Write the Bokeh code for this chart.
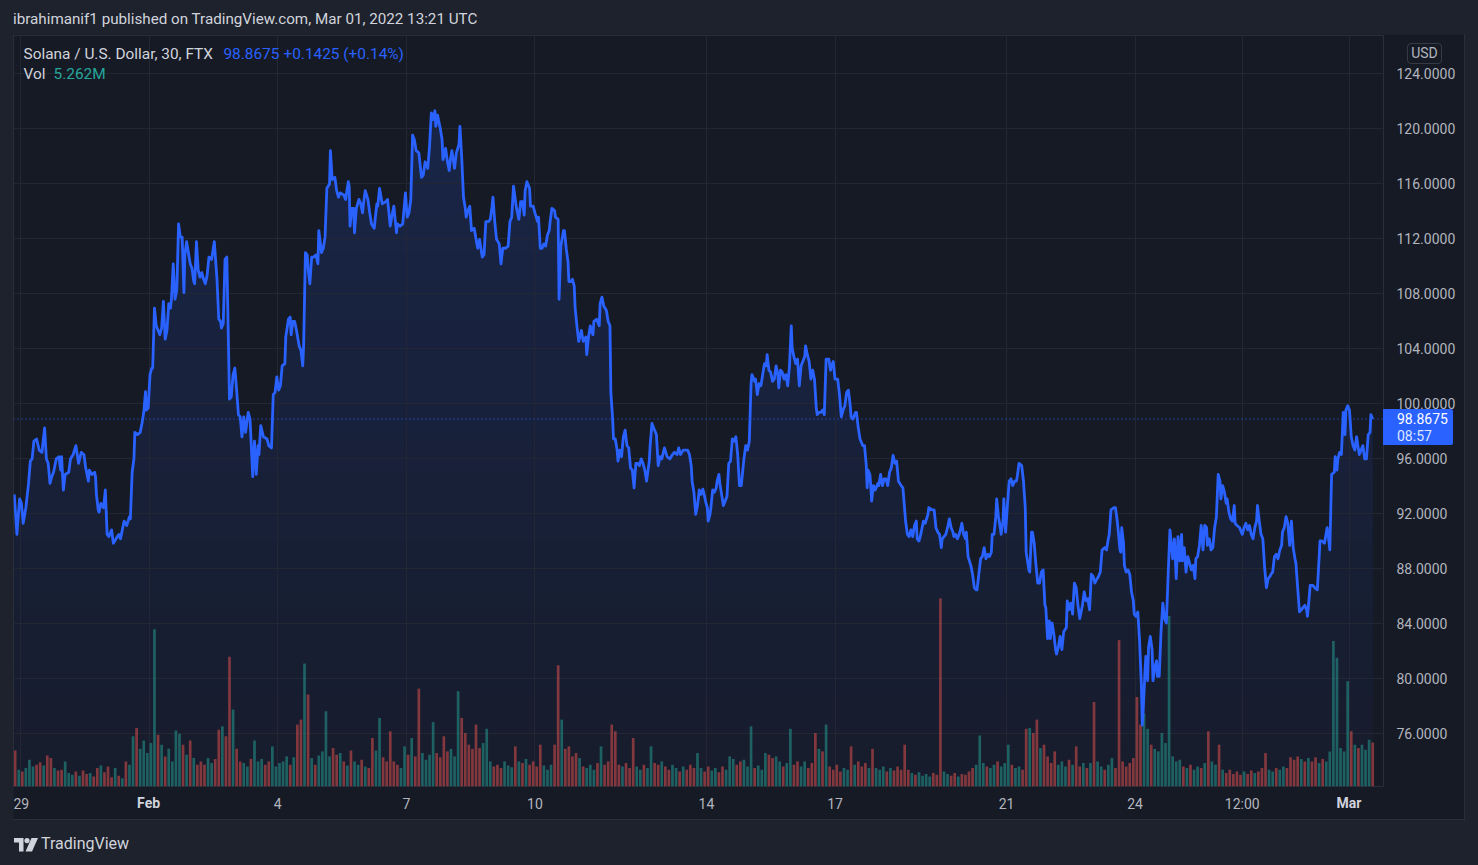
import numpy as np
from bokeh.plotting import figure
from bokeh.models import Range1d, FixedTicker, PrintfTickFormatter, Label, Span, Div
from bokeh.layouts import column
from bokeh.embed import file_html
from bokeh.resources import INLINE

# ---------------- data ----------------
# SOL/USD 30-min closes: (hours since 2022-01-29 00:00 UTC, price)
price_part1 = [(-3.5,93.39),(-2,90.48),(-0.5,93.07),(0.5,92.74),(1.5,91.29),(3,92.42),(4.5,94.19),(5.5,95.81),(6.5,95.97),(7.5,97.26),(9,97.42),(10.5,96.61),(12,96.45),(13.5,98.23),(14.5,95.97),(15.5,95.65),(16.5,94.19),(17.5,94.68),(18.5,95.0),(20,95.97),(21.5,96.13),(22.5,95.16),(23,96.13),(24,93.71),(25,94.84),(27,95.0),(28,95.97),(29.5,96.29),(31,96.94),(32.5,95.65),(34,96.45),(35.5,96.29),(36.5,95.32),(38,94.35),(38.5,95.16),(40,94.84),(41.5,95.0),(42,94.68),(42.5,93.39),(43.5,92.26),(44,92.1),(45,92.74),(46.5,92.42),(47.5,93.71),(48.5,90.48),(49.5,90.32),(51,90.81),(52,89.84),(53.5,90.16),(55,90.48),(56,90.16),(57,90.81),(58,91.45),(59.5,91.13),(61,91.77),(61.5,91.61),(62.5,95.0),(63.5,95.97),(64,97.9),(65.5,97.74),(67,97.9),(68,98.55),(69,99.36),(70,100.87),(70.5,99.52),(71.5,99.68),(72.5,102.1),(73.5,102.58),(74,102.58),(75,106.94),(76,105.65),(77.5,105.16),(78,105.0),(79,105.49),(80,107.42),(81,104.68),(82,105.32),(83,107.26),(84,106.94),(84.5,107.58),(85.5,110.16),(86.5,107.58),(87.5,108.23),(88.5,113.06),(89.5,112.1),(90.5,112.1),(91.5,108.06),(92,110.81),(93,111.77),(94,110.97),(95,110.16),(96,109.84),(97,108.87),(97.5,108.71),(98.5,111.77),(99.5,109.68),(100.5,109.19),(101.5,109.52),(102.5,109.03),(103.5,108.71),(104.5,109.35),(105.5,110.65),(107,110.48),(108.5,111.77),(110,109.03),(111,106.13),(112,105.97),(112.5,105.49),(113.5,105.81),(114.5,110.48),(115.5,110.65),(117,100.32),(118,100.48),(119,102.1),(120,102.58),(121,100.97),(122,99.19),(123,99.03),(124,97.58),(125,99.03),(126,97.9),(127.5,99.36),(128.5,98.87),(130,94.68),(131,97.26),(132,94.84),(133,96.94),(133.5,96.29),(134.5,98.39),(136,97.58),(138,97.42),(139,96.94),(140.5,96.77),(141.5,100.65),(142.5,100.81),(143.5,101.94),(144.5,100.97),(145.5,101.29),(146.5,102.74),(148,102.9),(148.5,104.84),(150,106.13),(151,106.29),(151.5,105.0),(152.5,105.97),(153.5,105.97),(154.5,105.32),(156,104.19),(157,103.87),(158,102.74),(158.5,104.19),(159.5,110.97),(160.5,110.81),(161,109.84),(162,108.71),(163,110.65),(164,110.65),(165.5,110.81),(166.5,110.16),(167,112.58),(168.5,110.97),(169.5,111.29),(170.5,112.1),(171.5,115.65),(173,115.97),(173.5,118.39),(174.5,116.29),(176,116.45),(177,115.48),(178,115.0),(179,115.32),(181,115.16),(182,114.84),(183.5,116.13),(184,115.81),(184.5,112.9),(185.5,114.19)]
price_part2 = [(186.5,114.19),(187,112.42),(188,114.19),(189.5,114.84),(190.5,114.52),(191.5,113.87),(192,114.52),(193,115.48),(194.5,114.84),(195.5,113.87),(196.5,113.06),(198,112.74),(199.5,114.52),(200,114.35),(201,115.65),(202.5,114.52),(204.5,114.68),(205.5,114.84),(207,112.9),(208,113.71),(209,114.35),(210.5,112.42),(211,113.06),(212.5,112.9),(214,113.06),(215.5,115.32),(216.5,113.55),(217.5,113.87),(218.5,114.84),(219.5,119.52),(220.5,119.19),(221.5,118.39),(223,118.23),(224.5,116.45),(225.5,116.61),(226.5,117.58),(228,117.1),(229,118.71),(230,121.13),(231,120.65),(232,121.29),(232.5,120.16),(233.5,120.97),(235,120.0),(236,119.19),(236.5,117.74),(238,118.55),(239,117.58),(240,116.94),(240.5,117.58),(241.5,118.39),(243,117.1),(244,118.23),(245.5,118.87),(246,120.16),(247,117.9),(248,115.0),(249,114.19),(249.5,113.55),(250.5,114.03),(251.5,114.35),(252.5,112.58),(254,112.74),(255.5,111.61),(256,111.29),(257,111.94),(258.5,110.65),(259.5,110.81),(260.5,113.23),(262,113.23),(263,113.39),(264,114.35),(264.5,115.0),(265.5,113.23),(266.5,111.94),(268,111.61),(269,110.16),(270,111.29),(271.5,111.29),(273,111.45),(274,113.23),(275,113.55),(276,115.81),(277.5,114.35),(279,113.39),(280,114.68),(281,114.68),(282,113.71),(282.5,115.48),(283.5,116.13),(285,115.65),(285.5,114.35),(287,114.35),(288,113.87),(289.5,113.23),(290,113.55),(291,111.29),(292,111.29),(293,111.61),(294,111.45),(295,112.26),(296,112.58),(296.5,113.23),(297.5,114.19),(299,114.03),(299.5,113.55),(301,113.39),(301.5,107.58),(302.5,111.45),(304,112.58),(304.5,112.58),(305.5,111.29),(306.5,110.32),(307,108.87),(308,108.87),(309,109.03),(310,108.55),(310.5,106.94),(311.5,105.65),(312.5,104.52),(314,105.32),(315,104.52),(316.5,104.84),(317,103.55),(318,104.84),(319,105.65),(320.5,105.0),(321,105.97),(322.5,106.13),(324,105.65),(324.5,107.26),(325.5,107.74),(326.5,107.1),(328,106.77),(329,105.97),(330,105.65),(330.5,100.81),(331.5,98.87),(332,97.42),(333,97.42),(334,96.61),(334.5,95.81),(335.5,96.61),(336.5,96.13),(337.5,97.58),(338.5,98.06),(339.5,96.94),(340.5,96.77),(341.5,95.32),(342.5,95.16),(343.5,93.87),(344.5,95.65),(345.5,95.65),(346.5,95.48),(347.5,95.97),(348.5,95.65),(349.5,95.16),(350.5,94.35),(352,95.81),(352.5,96.94),(353.5,98.55),(355,98.06),(356,97.74),(357,95.48),(358,96.13),(359,95.97),(360.5,96.77),(362,96.13),(363.5,95.97),(365,96.29),(366,96.45),(367.5,96.29),(368.5,96.77),(369.5,96.29),(371,96.61),(372.5,96.61),(373.5,96.61),(374.5,96.29),(375.5,95.48),(376,94.35),(377,93.55),(378,91.94)]
price_part3 = [(379,92.58),(380,93.71),(381,93.39),(382,93.77),(383,93.23),(383.5,92.9),(384.5,92.42),(385,91.45),(386,91.94),(386.5,92.42),(387.5,93.71),(388.5,93.55),(389.5,93.87),(390,94.35),(391,94.84),(391.5,94.19),(392.5,93.39),(393.5,92.58),(394.5,92.9),(395.5,93.23),(396.5,95.65),(397.5,95.81),(398.5,97.42),(399.5,97.26),(400.5,97.58),(401.5,96.29),(402.5,94.03),(403.5,94.03),(404,94.68),(405,95.97),(406,96.94),(407,96.61),(408,97.26),(409,101.45),(409.5,102.1),(411,101.61),(411.5,101.77),(412.5,100.65),(413.5,101.45),(414.5,101.29),(415.5,102.1),(416.5,102.9),(417.5,102.74),(418,103.55),(419,102.42),(420,102.26),(421,101.61),(422,101.77),(423,102.74),(424,102.1),(424.5,101.13),(425.5,102.42),(426.5,102.26),(427.5,101.77),(428.5,102.1),(429.5,101.29),(430.5,102.74),(431.5,105.65),(432,104.03),(433,103.39),(434,102.9),(435,103.23),(436,101.29),(437,102.74),(439,103.39),(439.5,104.19),(440.5,103.55),(441.5,103.06),(442.5,101.77),(443.5,102.42),(444.5,101.77),(445.5,99.68),(446,99.19),(447,99.36),(448,99.36),(449,99.52),(450,99.19),(451,103.23),(452.5,103.23),(453.5,102.42),(454,102.74),(455,103.06),(456,101.77),(457.5,101.77),(458.5,100.65),(459.5,99.03),(460.5,99.52),(461.5,99.84),(462.5,100.81),(463.5,100.97),(464.5,99.84),(465,99.03),(466,98.87),(467.5,99.36),(468,99.36),(469,98.23),(470,97.42),(471.5,96.94),(472.5,96.94),(473.5,95.48),(474,93.87),(474.5,95.16),(475.5,94.84),(476,94.03),(476.5,92.9),(477.5,94.03),(478.5,93.71),(480,94.19),(480.5,94.03),(481.5,94.84),(482.5,94.03),(483.5,94.52),(484.5,94.52),(485.5,94.03),(486.5,95.0),(487.5,95.32),(488.5,96.23),(489.5,95.65),(490.5,95.81),(491.5,94.35),(493,94.03),(494,93.87),(495.5,91.45),(496.5,90.48),(497.5,90.32),(498.5,90.81),(499.5,90.32),(500.5,91.13),(501.5,91.45),(502,90.16),(503,90.0),(504,90.48),(505.5,91.45),(506.5,91.29),(508,91.94),(508.5,92.42),(510.5,92.26),(511.5,92.26),(512.5,90.97),(513.5,90.65),(514.5,90.48),(515.5,89.52),(516,90.16),(517,90.32),(518,90.48),(519,90.97),(520,91.61),(521,90.97),(522,90.65),(522.5,90.32),(523.5,90.48),(524.5,90.16),(525.5,90.48),(526.5,90.97),(527,91.29),(528,90.48),(529,90.16),(529.5,90.65),(530.5,88.87),(532,88.23),(533,87.58),(534,86.61),(535,86.45),(535.5,86.45),(536.5,87.58),(537.5,88.71),(538.5,88.87),(539.5,89.52),(540.5,88.71),(541.5,89.03),(542.5,88.87),(543.5,89.19),(544,90.48),(545,90.48),(546,91.77),(546.5,93.06),(547.5,91.77),(548.5,90.97),(549,90.48),(550,91.45),(550.5,93.06),(551.5,90.65),(552.5,92.58),(553.5,94.35),(554.5,94.52),(555.5,94.03),(556.5,94.35),(557.5,94.35),(558,94.68),(559,95.65),(560.5,95.48),(561.5,94.35),(562.5,92.42),(563,89.19),(564.5,87.9),(565,87.74),(566,90.65),(566.5,90.65),(567.5,89.84),(568.5,88.23),(569.5,86.94)]
price_part4 = [(570.5,86.94),(571.5,87.74),(572.5,87.9),(573.5,85.32),(574,85.16),(575,82.9),(576,84.19),(576.5,82.9),(577.5,84.03),(578.5,83.23),(579.5,82.1),(580,81.77),(581,82.26),(582,83.06),(583,82.1),(584,83.39),(585.5,83.71),(586,85.65),(587,85.0),(588,85.48),(589,84.68),(590,86.94),(591,86.61),(592,85.32),(593,84.35),(594,85.0),(594.5,85.32),(595.5,86.29),(596.5,85.65),(597.5,85.81),(598.5,85.0),(599.5,87.58),(600.5,87.42),(601.5,86.94),(602,87.1),(603.5,87.42),(604.5,87.74),(605.5,89.35),(607,89.52),(608,89.35),(609,90.16),(609.5,90.48),(610.5,92.26),(612,92.42),(613,92.42),(614,91.45),(614.5,90.81),(615.5,89.35),(616,89.19),(616.5,90.97),(617.5,89.84),(618,88.23),(619,87.74),(620,87.9),(621,87.58),(622,86.29),(623,85.65),(623.5,84.68),(624.5,84.52),(625.5,84.84),(626.5,82.74),(627.5,79.52),(628,76.61),(628.5,77.58),(629.5,80.48),(630,81.61),(631,79.84),(631.5,82.26),(632.5,83.06),(633.5,82.1),(634,79.84),(635,80.81),(636,81.29),(636.5,80.16),(637.5,80.16),(638.5,83.39),(639.5,85.48),(640.5,84.35),(641.5,84.03),(642.5,87.58),(643.5,90.81),(644,90.16),(645,88.71),(646,90.16),(647,87.26),(648,90.32),(649,88.55),(650,90.48),(650.5,88.55),(651.5,89.52),(652.5,87.74),(653.5,88.87),(654.5,88.39),(655.5,87.9),(656.5,88.23),(657.5,87.26),(658,88.71),(659,88.87),(660,89.68),(661,91.13),(662,89.35),(663,91.13),(664,90.97),(664.5,89.68),(665.5,90.16),(666.5,89.35),(667.5,89.52),(668.5,90.97),(669.5,91.77),(670.5,94.84),(671.5,94.35),(672,93.06),(673,94.03),(674,93.55),(675,92.74),(675.5,93.06),(676.5,92.1),(677.5,91.61),(678.5,91.45),(679.5,92.58),(680,91.29),(681,91.13),(682.5,90.97),(684,90.48),(685,90.97),(686,91.29),(687,90.81),(688,91.13),(689,90.48),(690,90.16),(691,90.97),(692,91.45),(692.5,92.58),(693.5,91.45),(694.5,90.48),(695.5,90.16),(696.5,88.06),(697.5,86.61),(698.5,87.26),(699.5,87.42),(700,87.58),(701,87.74),(702,88.87),(703,89.03),(704,88.71),(705,89.35),(706,89.68),(706.5,90.65),(707.5,90.97),(708.5,91.77),(709.5,91.29),(710.5,89.68),(711.5,91.45),(712.5,89.52),(713.5,88.71),(714,88.39),(715,86.61),(716,84.84),(717,85.0),(718,85.16),(719,85.32),(720,85.0),(720.5,84.52),(721.5,85.97),(722,86.77),(723.5,86.77),(724.5,86.61),(726,86.45),(726.5,87.58),(727.5,90.0),(728.5,90.0),(730,89.84),(731.5,90.97),(732.5,90.0),(733,89.35),(734,94.84),(735.5,95.0),(736,96.13),(737,95.16),(737.5,95.97),(738.5,96.45),(739.5,96.29),(740.5,99.36),(741.5,97.74),(742,99.52),(743,99.84),(744,99.52),(745,97.58),(746,96.94),(747,96.61),(748,97.58),(748.5,97.1),(749.5,96.29),(750.5,96.61),(751.5,96.94),(752.5,95.97),(753.5,95.97),(754.5,97.74),(755.5,97.9),(756,99.19),(757,98.8675)]

last_close = 98.8675
last_change = "+0.1425 (+0.14%)"
last_volume = "5.262M"
bar_countdown = "08:57"

# volume (millions) in 2-hour steps, each part starting at the given hour
vol_step = 2
vol_start1 = -3
vol_part1 = [4.3, 2.0, 1.8, 2.2, 3.2, 2.4, 2.6, 2.9, 2.5, 3.7, 3.4, 2.2, 1.9, 2.0, 3.0, 1.6, 1.4, 1.8, 1.3, 1.9,
             1.5, 1.6, 1.2, 2.2, 2.5, 1.7, 2.4, 1.1, 2.2, 1.3, 1.0, 3.0, 2.6, 6.0, 7.0, 4.5, 5.5, 4.0, 5.2, 18.8,
             6.2, 5.0, 3.6, 4.5, 3.0, 6.7, 6.3, 5.0, 3.8, 5.5, 3.4, 2.6, 3.0, 2.6, 3.4, 2.8, 3.3, 6.8, 7.2, 6.0,
             15.5, 9.2, 4.5, 3.0, 2.8, 2.4, 3.3, 5.5, 3.0, 3.3, 2.6, 3.0, 4.8, 2.4, 2.8, 3.0, 3.6, 2.6, 3.5, 7.4,
             8.0, 14.7, 11.0, 3.4, 2.6, 3.7, 4.2, 9.0, 3.6, 4.6, 3.8, 4.0, 3.0, 2.5, 4.3]
vol_start2 = 187
vol_part2 = [3.0, 2.6, 3.2, 2.4, 2.2, 5.8, 4.3, 8.2, 3.5, 3.0, 6.6, 3.0, 2.6, 2.2, 4.8, 3.8, 5.8, 3.6, 11.7, 4.0,
             3.2, 3.8, 7.7, 4.0, 3.5, 6.0, 4.2, 4.5, 3.6, 11.4, 8.2, 6.4, 5.0, 4.5, 7.4, 4.6, 5.2, 6.9, 3.0, 2.4,
             2.6, 2.2, 3.0, 2.5, 2.3, 4.8, 3.0, 2.8, 3.3, 2.6, 3.0, 2.4, 5.0, 2.5, 2.0, 2.6, 5.0, 14.5, 8.0, 4.5,
             4.8, 3.6, 4.0, 3.4, 2.4, 2.2, 2.6, 2.0, 2.8, 4.8, 2.6, 3.0, 7.4, 6.6, 2.6, 2.4, 2.8, 2.2, 5.8, 2.4,
             2.0, 2.6, 2.2, 4.8, 2.8, 2.6, 3.0, 2.4, 2.0, 2.6, 2.2, 1.8, 2.4, 2.0, 2.6, 2.2]
vol_start3 = 379
vol_part3 = [4.0, 2.2, 1.8, 2.4, 1.9, 2.2, 1.7, 2.4, 2.0, 3.6, 3.3, 2.6, 3.0, 3.2, 2.4, 7.2, 2.2, 2.5, 2.0, 4.0,
             3.8, 3.4, 3.6, 3.0, 2.4, 2.8, 6.9, 2.6, 3.0, 2.4, 3.0, 2.2, 2.8, 6.4, 4.5, 4.2, 7.4, 2.4, 2.0, 2.6,
             1.8, 2.2, 2.0, 4.8, 2.6, 3.0, 2.4, 2.8, 2.2, 4.5, 2.2, 2.0, 2.4, 1.8, 2.2, 1.9, 2.4, 2.0, 5.0, 2.0,
             1.6, 1.4, 1.7, 1.3, 1.5, 1.2, 1.6, 1.4, 22.5, 1.8, 1.5, 1.3, 1.6, 1.2, 1.5, 1.4, 1.8, 2.2, 2.6, 6.1,
             2.8, 2.4, 2.2, 2.6, 3.0, 2.4, 2.8, 5.0, 2.6, 2.2, 2.4, 2.0, 6.9, 7.0, 6.4, 8.0]
vol_start4 = 571
vol_part4 = [4.6, 5.0, 3.6, 2.8, 4.2, 2.6, 3.0, 2.4, 3.2, 2.6, 4.8, 2.4, 2.8, 2.2, 2.8, 10.1, 3.0, 2.4, 2.0, 2.6,
             3.4, 2.2, 17.5, 3.0, 2.4, 2.8, 3.4, 10.7, 7.4, 8.7, 6.9, 5.0, 4.5, 4.2, 6.4, 5.2, 20.4, 3.6, 3.0, 3.2,
             2.4, 2.2, 2.6, 2.0, 2.4, 2.2, 2.8, 6.6, 3.0, 2.6, 5.0, 2.0, 1.6, 2.0, 1.5, 1.8, 1.4, 1.8, 1.5, 1.9,
             1.6, 1.8, 2.2, 4.0, 2.0, 1.8, 2.2, 2.0, 2.4, 2.2, 3.5, 3.2, 3.6, 3.3, 3.0, 3.4, 3.0, 3.5, 2.8, 3.3,
             3.0, 4.2, 17.4, 15.4, 4.6, 4.2, 12.6, 6.6, 5.0, 4.6, 5.0, 4.4, 5.6, 5.262]

price_ticks = [76, 80, 84, 88, 92, 96, 100, 104, 108, 112, 116, 120, 124]
date_ticks = [0, 72, 144, 216, 288, 384, 456, 552, 624, 684, 744]
date_labels = ["29", "Feb", "4", "7", "10", "14", "17", "21", "24", "12:00", "Mar"]
bold_dates = ["Feb", "Mar"]

# ---------------- styling ----------------
BG = "#161a25"
BG_RGB = np.array([22, 26, 37], dtype=float)
BLUE = "#2962ff"
BLUE_RGB = np.array([41, 98, 255], dtype=float)
GRID = "#232734"
BORDER = "#2a2e39"
TXT = "#b2b5be"
LIGHT = "#d1d4dc"
UPC = "#26a69a"
DNC = "#ef5350"
FONT = "Roboto"

pts = price_part1 + price_part2 + price_part3 + price_part4
ph = np.array([a for a, b in pts], dtype=float)
pp = np.array([b for a, b in pts], dtype=float)

vt = np.concatenate([s + vol_step * np.arange(len(v)) for s, v in
                     ((vol_start1, vol_part1), (vol_start2, vol_part2), (vol_start3, vol_part3), (vol_start4, vol_part4))]).astype(float)
vv = np.array(vol_part1 + vol_part2 + vol_part3 + vol_part4, dtype=float)
up = np.interp(vt + 1, ph, pp) >= np.interp(vt - 1, ph, pp)
vcol = [UPC if u else DNC for u in up]

X0, X1 = -3.92, 763.05
Y0, Y1 = 72.145, 126.764

p = figure(frame_width=1370, frame_height=751, x_range=Range1d(X0, X1), y_range=Range1d(Y0, Y1),
           output_backend="svg", toolbar_location=None, y_axis_location="right",
           min_border_left=0, min_border_right=82, min_border_top=1, min_border_bottom=34,
           background_fill_color=BG, border_fill_color=BG, outline_line_color=BORDER,
           margin=(0, 13, 0, 13))
p.extra_y_ranges = {"vol": Range1d(0, 89.8)}

# axes
yax = p.yaxis[0]
yax.ticker = FixedTicker(ticks=price_ticks)
yax.formatter = PrintfTickFormatter(format="%.4f")
xax = p.xaxis[0]
xax.ticker = FixedTicker(ticks=date_ticks)
xax.major_label_overrides = {t: l for t, l in zip(date_ticks, date_labels)}
for ax in (xax, yax):
    ax.axis_line_color = None
    ax.major_tick_line_color = None
    ax.minor_tick_line_color = None
    ax.major_tick_out = 0
    ax.major_tick_in = 0
    ax.major_label_text_color = TXT
    ax.major_label_text_font = FONT
    ax.major_label_text_font_size = "14px"
yax.major_label_standoff = 13
xax.major_label_standoff = 9

p.xgrid.grid_line_color = GRID
p.ygrid.grid_line_color = GRID

# vertical gradient under the price line (opaque bands, drawn beneath the grid)
for lev in range(72, 122):
    a = 0.03 + 0.13 * (lev - 72) / 49.0
    c = BG_RGB * (1 - a) + BLUE_RGB * a
    col = "#%02x%02x%02x" % tuple(int(round(v)) for v in c)
    p.varea(x=ph, y1=(Y0 if lev == 72 else float(lev)), y2=np.maximum(pp, lev),
            fill_color=col, fill_alpha=1.0, level="underlay")

# volume
p.vbar(x=vt, top=vv, bottom=0, width=1.5, y_range_name="vol", fill_color=vcol, fill_alpha=0.5, line_color=None)

# price line
p.line(ph, pp, line_color=BLUE, line_width=2.8, line_join="round")

p.add_layout(Span(location=last_close, dimension="width", line_color=BLUE, line_dash="1 3", line_width=1))

# legend texts
def lab(x, y, text, color, size="15.4px"):
    p.add_layout(Label(x=x, y=y, text=text, text_color=color, text_font=FONT, text_font_size=size,
                       text_baseline="middle", text_align="left"))

lab(1.68, 125.45, "Solana / U.S. Dollar, 30, FTX", LIGHT)
lab(113.6, 125.45, f"{last_close:.4f}", BLUE)
lab(147.2, 125.45, last_change, BLUE)
lab(1.68, 123.93, "Vol", LIGHT)
lab(18.5, 123.93, last_volume, UPC)

title_div = Div(text=('<div style="position:relative;width:1478px;height:34px;">'
                      '<span style="position:absolute;left:13px;top:10px;line-height:18px;white-space:nowrap;'
                      'color:#d1d4dc;font-family:Roboto;font-size:15.2px;">'
                      'ibrahimanif1 published on TradingView.com, Mar 01, 2022 13:21 UTC</span></div>'),
                width=1478, height=34, margin=0)

logo_svg = ('<svg width="24" height="14" viewBox="0 0 24 14" style="position:absolute;left:14px;top:18px">'
            '<path d="M0 0h9.5v13.5h-4.5v-9h-5z" fill="#d1d4dc"/>'
            '<circle cx="13" cy="2.6" r="2.6" fill="#d1d4dc"/>'
            '<path d="M17.5 0h6.5l-6 13.5h-6.5z" fill="#d1d4dc"/></svg>')
# overlays on the chart (positions relative to this strip, whose top is at page y=820)
price_box = ('<div style="position:absolute;left:1383px;top:-411px;width:70px;height:36px;background:#2962ff;'
             'border-radius:0 2px 2px 0;font-family:Roboto;font-size:14px;line-height:18px;white-space:nowrap;">'
             f'<span style="position:absolute;left:14px;top:1px;color:#ffffff;">{last_close:.4f}</span>'
             f'<span style="position:absolute;left:14px;top:18px;color:#dfe5ff;">{bar_countdown}</span></div>')
usd_box = ('<div style="position:absolute;left:1407px;top:-777px;width:35px;height:21px;box-sizing:border-box;'
           'border:1px solid #363a45;border-radius:4px;color:#b2b5be;font-family:Roboto;font-size:14px;'
           'line-height:19px;text-align:center;">USD</div>')
x_px = lambda h: 13 + (h - X0) * 1370.0 / (X1 - X0)
month_marks = "".join(
    f'<div style="position:absolute;left:{x_px(t) - 22:.1f}px;top:-25px;width:44px;height:16px;background:{BG};'
    f'color:#d1d4dc;font-family:Roboto;font-size:14px;font-weight:bold;line-height:16px;text-align:center;">{l}</div>'
    for t, l in zip(date_ticks, date_labels) if l in bold_dates)
frame_lines = ('<div style="position:absolute;left:1464px;top:-786px;width:1px;height:787px;background:#2a2e39;"></div>'
               '<div style="position:absolute;left:13px;top:-1px;width:1452px;height:1px;background:#2a2e39;"></div>')
foot_div = Div(text=('<div style="position:relative;width:1478px;height:45px;">' + price_box + usd_box + month_marks +
                     frame_lines + logo_svg +
                     '<span style="position:absolute;left:41px;top:15px;line-height:18px;white-space:nowrap;'
                     'color:#d1d4dc;font-family:Roboto;font-size:16px;">TradingView</span></div>'),
               width=1478, height=45, margin=0)

layout = column(title_div, p, foot_div, spacing=0)

html = file_html(layout, INLINE, title="SOLUSD")
html = html.replace("<head>", "<head><style>html,body{background:#1e222d;}</style>", 1)
open("out.html", "w").write(html)
